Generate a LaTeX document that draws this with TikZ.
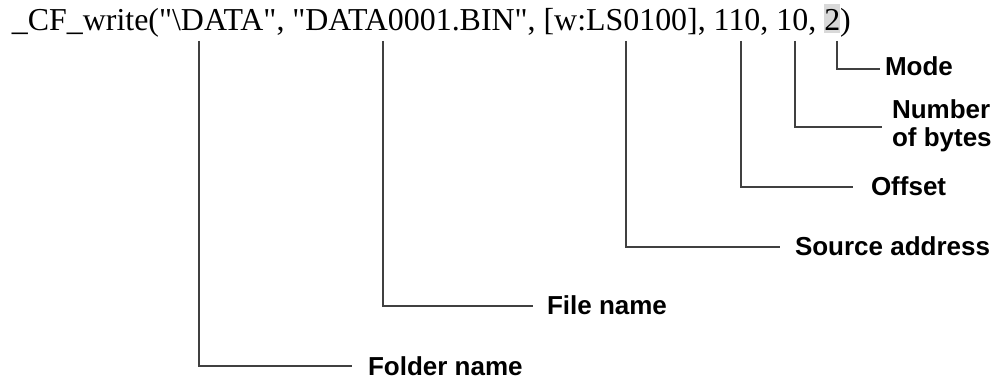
\documentclass[tikz,border=0pt]{standalone}
\usepackage{fontspec}
\setmainfont{Liberation Serif}
\newfontfamily\labfont{Liberation Sans}
\newcommand{\qq}{\textquotedbl}
\begin{document}
\begin{tikzpicture}[x=1pt,y=-1pt,
  codetext/.style={inner sep=0pt,outer sep=0pt,anchor=base west,font=\fontsize{31.9}{34}\selectfont},
  hilite/.style={codetext,fill=black!15},
  lab/.style={inner sep=0pt,outer sep=0pt,anchor=west,font=\labfont\bfseries\fontsize{26}{29}\selectfont,align=left},
  leader/.style={draw=black!75,line width=1.2pt}]
\useasboundingbox (0,0) rectangle (1003,379);
\node[codetext] (pre) at (12,31) {\_CF\_write(\qq\textbackslash DATA\qq, \qq DATA0001.BIN\qq, [w:LS0100], 110, 10,\ \null};
\node[hilite] (two) at (pre.base east) {\rule[-2pt]{0pt}{29pt}2};
\node[codetext] (close) at (two.base east) {)};
% line start points under the text
\coordinate (cFolder) at (199,41);
\coordinate (cFile) at (383,41);
\coordinate (cSrc) at (626,41);
\coordinate (cOff) at (741,41);
\coordinate (cNum) at (795,41);
\coordinate (cMode) at (837,41);
% labels
\node[lab] (mode) at (885,66) {Mode};
\node[lab] (num) at (892,126) {Number\\[-1pt]of bytes};
\node[lab] (off) at (871,186) {Offset};
\node[lab] (src) at (795,246) {Source address};
\node[lab] (file) at (547,305) {File name};
\node[lab] (folder) at (368,366) {Folder name};
% leaders
\draw[leader] (cMode) |- ([xshift=-5pt,yshift=-3pt]mode.west);
\draw[leader] (cNum) |- ([xshift=-10pt,yshift=-1pt]num.west);
\draw[leader] (cOff) |- ([xshift=-18pt,yshift=-1pt]off.west);
\draw[leader] (cSrc) |- ([xshift=-15pt,yshift=-1pt]src.west);
\draw[leader] (cFile) |- ([xshift=-14pt,yshift=-1pt]file.west);
\draw[leader] (cFolder) |- ([xshift=-16pt]folder.west);
\end{tikzpicture}
\end{document}
